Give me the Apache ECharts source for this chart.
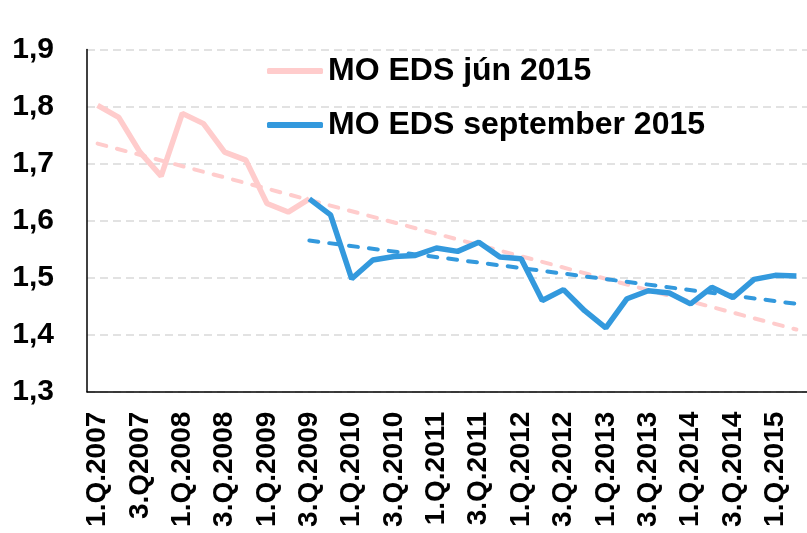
<!DOCTYPE html>
<html>
<head>
<meta charset="utf-8">
<script src="https://cdn.jsdelivr.net/npm/echarts@6/dist/echarts.min.js"></script>
<style>
  html, body { margin: 0; padding: 0; background: #fff; }
  #chart { width: 807px; height: 533px; }
</style>
</head>
<body>
<div id="chart"></div>
<script>
// quarters 1.Q.2007 .. 2.Q.2015 (the 2nd label is written without a dot in the source)
const quarters = [
  '1.Q.2007', '2.Q.2007', '3.Q2007', '4.Q.2007',
  '1.Q.2008', '2.Q.2008', '3.Q.2008', '4.Q.2008',
  '1.Q.2009', '2.Q.2009', '3.Q.2009', '4.Q.2009',
  '1.Q.2010', '2.Q.2010', '3.Q.2010', '4.Q.2010',
  '1.Q.2011', '2.Q.2011', '3.Q.2011', '4.Q.2011',
  '1.Q.2012', '2.Q.2012', '3.Q.2012', '4.Q.2012',
  '1.Q.2013', '2.Q.2013', '3.Q.2013', '4.Q.2013',
  '1.Q.2014', '2.Q.2014', '3.Q.2014', '4.Q.2014',
  '1.Q.2015', '2.Q.2015'
]

// MO EDS jún 2015 (1.Q.2007 - 3.Q.2009)
const eksJun = [1.802, 1.781, 1.720, 1.678, 1.788, 1.770, 1.720, 1.706, 1.630, 1.615, 1.638]

// MO EDS september 2015 (3.Q.2009 - 2.Q.2015)
const eksSep = [
  1.638, 1.610, 1.498, 1.531, 1.537, 1.539, 1.552, 1.546, 1.562, 1.536,
  1.533, 1.460, 1.479, 1.442, 1.412, 1.463, 1.477, 1.473, 1.454, 1.483,
  1.465, 1.497, 1.504, 1.503
]

// linear trend lines, start and end points
const trendJun = [['1.Q.2007', 1.735], ['2.Q.2015', 1.409]]
const trendSep = [['3.Q.2009', 1.565], ['2.Q.2015', 1.454]]

const yTicks = [1.3, 1.4, 1.5, 1.6, 1.7, 1.8, 1.9]

const pink = '#ffcccc'
const blue = '#3399dd'
const font = 'Liberation Sans, Arial, sans-serif'

// pad series to full length of the category axis
const junData = quarters.map((q, i) => (i < eksJun.length ? eksJun[i] : '-'))
const sepStart = quarters.length - eksSep.length
const sepData = quarters.map((q, i) => (i >= sepStart ? eksSep[i - sepStart] : '-'))

const chart = echarts.init(document.getElementById('chart'))
chart.setOption({
  animation: false,
  backgroundColor: '#fff',
  textStyle: { fontFamily: font },
  grid: {
    left: 87,
    right: -7,
    top: 49.5,
    bottom: 141.3
  },
  legend: [
    {
      data: ['MO EDS jún 2015'],
      left: 262,
      top: 50,
      icon: 'roundRect',
      itemWidth: 56,
      itemHeight: 6,
      textStyle: { fontSize: 32, fontWeight: 'bold', color: '#000', fontFamily: font }
    },
    {
      data: ['MO EDS september 2015'],
      left: 262,
      top: 104,
      icon: 'roundRect',
      itemWidth: 56,
      itemHeight: 6,
      textStyle: { fontSize: 32, fontWeight: 'bold', color: '#000', fontFamily: font }
    }
  ],
  xAxis: {
    type: 'category',
    data: quarters,
    boundaryGap: true,
    axisLine: { lineStyle: { color: '#000', width: 1.5 } },
    axisTick: { show: false },
    axisLabel: {
      interval: 1,
      rotate: 90,
      margin: 20,
      fontSize: 28,
      fontWeight: 'bold',
      color: '#000',
      fontFamily: font
    }
  },
  yAxis: {
    type: 'value',
    min: yTicks[0],
    max: yTicks[yTicks.length - 1],
    interval: 0.1,
    axisLine: { show: true, lineStyle: { color: '#000', width: 1.5 } },
    axisTick: { show: false },
    axisLabel: {
      margin: 33,
      fontSize: 30,
      fontWeight: 'bold',
      color: '#000',
      fontFamily: font,
      formatter: v => v.toFixed(1).replace('.', ',')
    },
    splitLine: {
      lineStyle: { color: '#d9d9d9', width: 1.5, type: [8, 5] }
    }
  },
  series: [
    {
      name: 'MO EDS jún 2015',
      type: 'line',
      data: junData,
      showSymbol: false,
      symbol: 'none',
      color: pink,
      lineStyle: { color: pink, width: 5.5 },
      z: 2
    },
    {
      name: 'jún trend',
      type: 'line',
      data: trendJun,
      showSymbol: false,
      symbol: 'none',
      lineStyle: { color: pink, width: 4, type: [9, 11], cap: 'round' },
      z: 3
    },
    {
      name: 'MO EDS september 2015',
      type: 'line',
      data: sepData,
      showSymbol: false,
      symbol: 'none',
      color: blue,
      lineStyle: { color: blue, width: 5.5 },
      z: 4
    },
    {
      name: 'september trend',
      type: 'line',
      data: trendSep,
      showSymbol: false,
      symbol: 'none',
      lineStyle: { color: blue, width: 4, type: [9, 11], cap: 'round' },
      z: 5
    }
  ]
})
</script>
</body>
</html>
